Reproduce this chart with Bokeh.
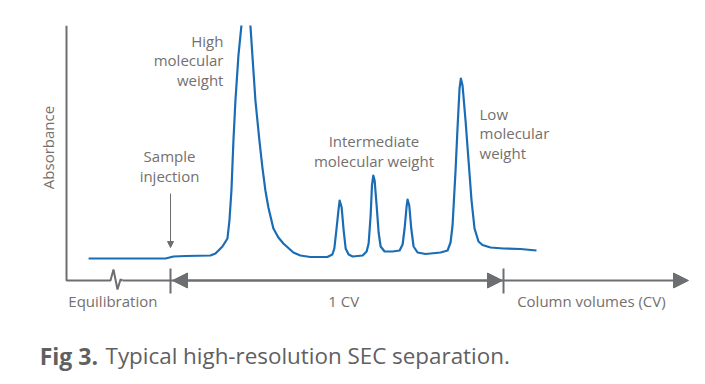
import math
from bokeh.plotting import figure
from bokeh.models import Range1d, Arrow, NormalHead, ColumnDataSource
from bokeh.core.properties import value
from bokeh.embed import file_html
from bokeh.resources import INLINE

# ---------------- data (x in column volumes, y in absorbance units) ----------------
elution_cv = [-0.246, -0.150, -0.060, -0.015, 0.009, 0.045, 0.120, 0.135, 0.156, 0.171,
              0.177, 0.183, 0.189, 0.195, 0.204, 0.213, 0.227, 0.240, 0.249, 0.255,
              0.267, 0.276, 0.285, 0.294, 0.309, 0.324, 0.339, 0.369, 0.390, 0.420,
              0.471, 0.486, 0.492, 0.498, 0.505, 0.508, 0.514, 0.520, 0.526, 0.535,
              0.547, 0.577, 0.589, 0.595, 0.601, 0.605, 0.609, 0.613, 0.619, 0.625,
              0.631, 0.643, 0.667, 0.688, 0.697, 0.703, 0.709, 0.712, 0.717, 0.723,
              0.730, 0.742, 0.766, 0.811, 0.832, 0.841, 0.847, 0.856, 0.862, 0.868,
              0.872, 0.877, 0.886, 0.895, 0.904, 0.913, 0.925, 0.937, 0.961, 1.000,
              1.051, 1.099]
absorbance = [0.22, 0.22, 0.22, 0.22, 0.24, 0.245, 0.25, 0.27, 0.34, 0.42,
              0.60, 0.90, 1.40, 1.80, 2.25, 2.55, 3.05, 2.55, 2.10, 1.80,
              1.40, 1.13, 0.90, 0.73, 0.52, 0.43, 0.37, 0.28, 0.25, 0.235,
              0.235, 0.26, 0.32, 0.50, 0.72, 0.80, 0.73, 0.50, 0.32, 0.26,
              0.24, 0.25, 0.29, 0.37, 0.65, 0.95, 1.05, 1.00, 0.75, 0.48,
              0.34, 0.29, 0.29, 0.30, 0.36, 0.52, 0.74, 0.81, 0.75, 0.52,
              0.34, 0.28, 0.265, 0.28, 0.30, 0.38, 0.55, 1.10, 1.53, 1.92,
              2.02, 1.95, 1.60, 1.20, 0.80, 0.52, 0.39, 0.355, 0.33, 0.32,
              0.315, 0.30]

high_label = ["High", "molecular", "weight"]
sample_label = ["Sample", "injection"]
intermediate_label = ["Intermediate", "molecular weight"]
low_label = ["Low", "molecular", "weight"]
y_title = "Absorbance"
x_labels = ["Equilibration", "1 CV", "Column volumes (CV)"]
caption_bold = "Fig 3."
caption_text = "Typical high-resolution SEC separation."

# ---------------- styles ----------------
BLUE = "#1a6cb5"
AXIS = "#6d6e71"
TEXT = "#74706e"
CAP = "#5f6062"
FONT = value("Open Sans")

p = figure(width=700, height=380,
           x_range=Range1d(-0.51051, 1.59159), y_range=Range1d(-1.00, 2.55),
           x_axis_type=None, y_axis_type=None,
           output_backend="svg", toolbar_location=None)
p.min_border_left = 0
p.min_border_right = 0
p.min_border_bottom = 0
p.min_border_top = 25
p.grid.visible = False
p.outline_line_color = None
p.background_fill_color = "white"
p.border_fill_color = "white"

# axes (hand-drawn schematic)
x0 = -0.3123
p.line([x0, x0, -0.1802, -0.1712, -0.1592, -0.1502, -0.1441],
       [2.55, 0, 0, 0.11, -0.09, 0.01, 0], line_color=AXIS, line_width=2)
p.add_layout(Arrow(end=NormalHead(size=15, fill_color=AXIS, line_color=AXIS),
                   x_start=-0.1441, y_start=0, x_end=1.5556, y_end=0,
                   line_color=AXIS, line_width=2))
p.add_layout(Arrow(start=NormalHead(size=15, fill_color=AXIS, line_color=AXIS),
                   end=NormalHead(size=15, fill_color=AXIS, line_color=AXIS),
                   x_start=0.006, y_start=0, x_end=0.997, y_end=0,
                   line_color=AXIS, line_width=2))
p.segment(x0=[0, 1], y0=[0.12, 0.12], x1=[0, 1], y1=[-0.13, -0.13],
          line_color=AXIS, line_width=2)

# sample injection marker
p.add_layout(Arrow(end=NormalHead(size=6, fill_color=AXIS, line_color=AXIS),
                   x_start=0, y_start=0.87, x_end=0, y_end=0.33,
                   line_color=AXIS, line_width=1))

# chromatogram trace
p.line(elution_cv, absorbance, line_color=BLUE, line_width=2.2, line_join="round")

def lines(texts, x, y_top, step, align, size="15px", color=TEXT, angle=0.0, bold=False):
    src = ColumnDataSource(dict(x=[x] * len(texts),
                                y=[y_top - i * step for i in range(len(texts))],
                                t=texts))
    p.text(x="x", y="y", text="t", source=src, text_font=FONT, text_font_size=size,
           text_color=color, text_align=align, text_baseline="middle", angle=angle,
           text_font_style="bold" if bold else "normal")

lines(high_label, 0.159, 2.40, 0.195, "right")
lines(sample_label, -0.003, 1.25, 0.20, "center")
lines(intermediate_label, 0.611, 1.40, 0.20, "center")
lines(low_label, 0.928, 1.67, 0.197, "left")
lines([y_title], -0.369, 1.33, 0, "center", angle=math.pi / 2)
lines([x_labels[0]], -0.173, -0.20, 0, "center")
lines([x_labels[1]], 0.520, -0.20, 0, "center")
lines([x_labels[2]], 1.264, -0.20, 0, "center")
lines([caption_bold], -0.393, -0.75, 0, "left", size="23px", color=CAP, bold=True)
lines([caption_text], -0.195, -0.75, 0, "left", size="22.4px", color=CAP)

open("out.html", "w").write(file_html(p, INLINE))
